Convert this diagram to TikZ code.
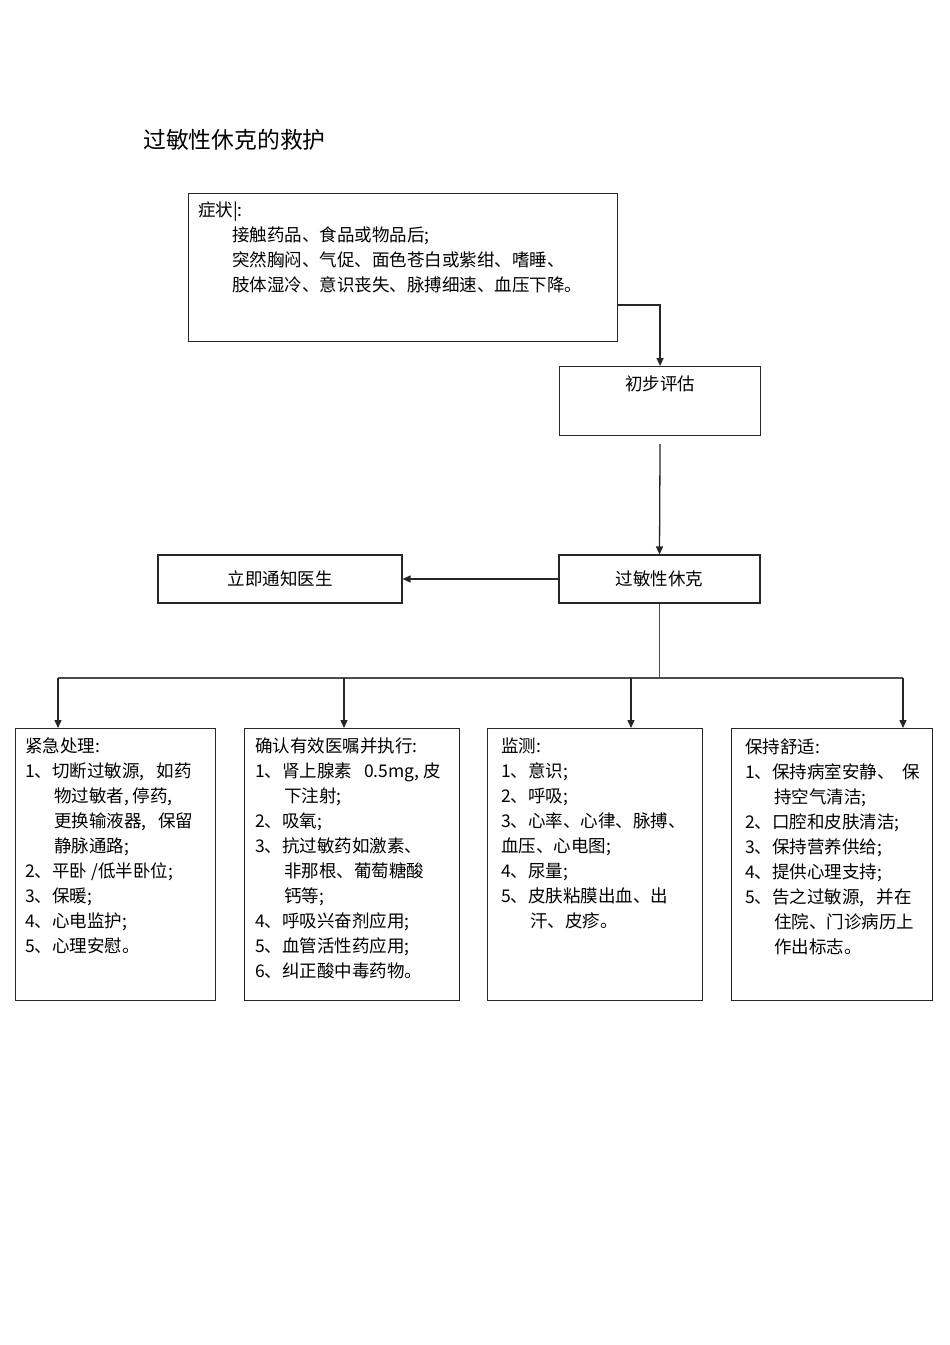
\documentclass[tikz,border=0pt]{standalone}
\usepackage{fontspec}
\setmainfont{Noto Sans CJK SC}
\usetikzlibrary{arrows.meta}
\newcommand\bodyf{\fontsize{17.5pt}{25pt}\selectfont}
\newcommand\ind{\hspace*{29pt}}
\begin{document}
\begin{tikzpicture}[x=1pt,y=-1pt,
  box/.style={draw=black!85,line width=1.1pt,rectangle,inner sep=0pt,anchor=north west},
  txt/.style={inner sep=0pt,anchor=north west,align=left,font=\bodyf},
  arr/.style={draw=black!85,line width=1.3pt,-{Triangle[width=7pt,length=8pt]}},
  ln/.style={draw=black!70,line width=1.1pt}]
\useasboundingbox (0,0) rectangle (950,1345);
\node[inner sep=0pt,anchor=west,font=\fontsize{22.8pt}{26pt}\selectfont] (title) at (143,140) {过敏性休克的救护};
% symptoms
\node[box,minimum width=429pt,minimum height=148pt] (sym) at (188,193) {};
\node[txt] (symt) at (198,202) {症状|:\\\hspace*{34pt}接触药品、食品或物品后;\\\hspace*{34pt}突然胸闷、气促、面色苍白或紫绀、嗜睡、\\\hspace*{34pt}肢体湿冷、意识丧失、脉搏细速、血压下降。};
% evaluation
\node[box,minimum width=201pt,minimum height=69pt] (eval) at (559,366) {};
\node[inner sep=0pt,font=\bodyf] (evalt) at (660,384) {初步评估};
% shock
\node[box,minimum width=201pt,minimum height=48pt,anchor=center,font=\bodyf] (shock) at (659.5,579) {过敏性休克};
\node[box,minimum width=244pt,minimum height=48pt,anchor=center,font=\bodyf] (doc) at (280,579) {立即通知医生};
% bottom boxes
\node[box,minimum width=200pt,minimum height=272pt] (b1) at (15,728) {};
\node[box,minimum width=215pt,minimum height=272pt] (b2) at (244,728) {};
\node[box,minimum width=215pt,minimum height=272pt] (b3) at (487,728) {};
\node[box,minimum width=201pt,minimum height=272pt] (b4) at (731,728) {};
\node[txt] (t1) at (25,738) {紧急处理:\\1、切断过敏源,\ \ \ 如药\\\ind 物过敏者,\ 停药,\\\ind 更换输液器,\ \ \ 保留\\\ind 静脉通路;\\2、平卧 /低半卧位;\\3、保暖;\\4、心电监护;\\5、心理安慰。};
\node[txt] (t2) at (255,738) {确认有效医嘱并执行:\\1、肾上腺素\ \ \ 0.5mg,\ 皮\\\ind 下注射;\\2、吸氧;\\3、抗过敏药如激素、\\\ind 非那根、葡萄糖酸\\\ind 钙等;\\4、呼吸兴奋剂应用;\\5、血管活性药应用;\\6、纠正酸中毒药物。};
\node[txt] (t3) at (501,738) {监测:\\1、意识;\\2、呼吸;\\3、心率、心律、脉搏、\\血压、心电图;\\4、尿量;\\5、皮肤粘膜出血、出\\\ind 汗、皮疹。};
\node[txt] (t4) at (745,738) {保持舒适:\\1、保持病室安静、\ \ 保\\\ind 持空气清洁;\\2、口腔和皮肤清洁;\\3、保持营养供给;\\4、提供心理支持;\\5、告之过敏源,\ \ \ 并在\\\ind 住院、门诊病历上\\\ind 作出标志。};
% connectors
\coordinate (c1) at (617,305);
\draw[arr] (c1) -| (eval.north);
\draw[arr] ([yshift=-8pt]eval.south) -- (shock.north);
\draw[arr] (shock.west) -- (doc.east);
\coordinate (bus) at (659.5,678);
\draw[ln] (shock.south) -- (bus);
\coordinate (j1) at (58,678);
\coordinate (j2) at (344,678);
\coordinate (j3) at (631,678);
\coordinate (j4) at (903,678);
\draw[ln] (j1) -- (j4);
\draw[arr] (j1) -- (j1 |- b1.north);
\draw[arr] (j2) -- (j2 |- b2.north);
\draw[arr] (j3) -- (j3 |- b3.north);
\draw[arr] (j4) -- (j4 |- b4.north);
\end{tikzpicture}
\end{document}
